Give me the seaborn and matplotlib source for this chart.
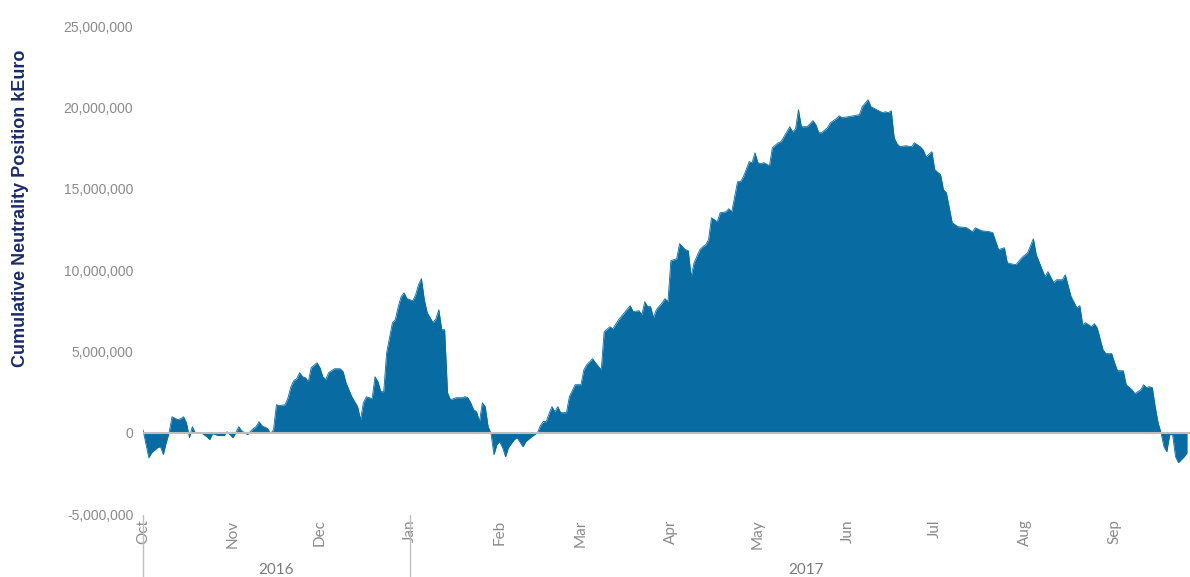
import numpy as np
import pandas as pd
import matplotlib
matplotlib.use("Agg")
import matplotlib.pyplot as plt
import matplotlib.ticker as mticker
import seaborn as sns

# ---------------- data ----------------
start_date = "2016-10-01"
day_offset = [
    0, 2, 3, 5, 6, 7, 8, 9, 10, 12, 13, 14, 15, 16, 17, 18, 20, 22, 23, 24,
    26, 28, 29, 31, 32, 33, 34, 35, 36, 38, 39, 40, 41, 43, 44, 45, 46, 47, 49, 50,
    51, 52, 53, 54, 55, 56, 57, 58, 60, 61, 62, 63, 64, 66, 68, 69, 70, 72, 74, 75,
    76, 77, 79, 80, 81, 82, 83, 84, 86, 87, 88, 89, 90, 91, 93, 94, 95, 96, 97, 98,
    100, 101, 102, 103, 104, 105, 106, 108, 110, 111, 112, 113, 114, 115, 116, 117, 118, 119, 120, 121,
    122, 123, 124, 125, 126, 128, 129, 131, 132, 134, 136, 137, 138, 139, 140, 141, 142, 143, 144, 146,
    147, 149, 151, 152, 153, 155, 156, 158, 159, 161, 162, 164, 166, 168, 169, 171, 172, 173, 174, 175,
    176, 177, 179, 180, 181, 182, 184, 185, 187, 188, 189, 190, 192, 193, 194, 195, 196, 197, 198, 199,
    201, 202, 203, 205, 206, 207, 209, 210, 211, 212, 213, 214, 216, 217, 219, 220, 222, 223, 224, 225,
    226, 227, 229, 231, 232, 233, 234, 236, 237, 239, 240, 241, 243, 245, 247, 248, 250, 251, 253, 255,
    256, 257, 258, 259, 260, 261, 263, 265, 266, 268, 269, 270, 272, 273, 275, 276, 277, 279, 281, 284,
    286, 287, 289, 292, 293, 295, 297, 298, 299, 301, 303, 305, 307, 308, 311, 312, 314, 315, 317, 318,
    320, 322, 323, 324, 325, 327, 328, 329, 331, 332, 334, 335, 336, 338, 339, 341, 342, 344, 345, 346,
    347, 348, 349, 350, 351, 352, 353, 354, 355, 356, 357, 359, 360,
]
position_mio_keur = [
    0.18, -1.54, -1.23, -0.92, -0.86, -1.35, -0.61, 0.00, 0.98, 0.80, 0.86, 0.98, 0.60, -0.31, 0.37, 0.00, 0.00, -0.25, -0.43, -0.06,
    -0.18, -0.18, 0.06, -0.31, 0.00, 0.37, 0.12, 0.00, -0.12, 0.25, 0.37, 0.68, 0.43, 0.25, -0.06, 0.18, 1.72, 1.66, 1.72, 2.15,
    2.83, 3.20, 3.32, 3.69, 3.44, 3.38, 3.14, 4.00, 4.30, 4.00, 3.44, 3.26, 3.69, 3.93, 3.93, 3.75, 3.07, 2.21, 1.60, 0.80,
    1.84, 2.21, 2.09, 3.44, 3.14, 2.52, 2.52, 4.92, 6.76, 6.95, 7.75, 8.36, 8.60, 8.24, 8.11, 8.48, 9.10, 9.47, 8.17, 7.38,
    6.76, 7.01, 7.56, 6.33, 6.33, 2.46, 2.03, 2.15, 2.15, 2.21, 2.15, 1.84, 1.41, 1.29, 0.68, 1.84, 1.60, 0.37, -0.06, -1.35,
    -0.74, -0.55, -0.92, -1.48, -0.92, -0.43, -0.31, -0.86, -0.55, -0.25, 0.00, 0.43, 0.68, 0.68, 1.17, 1.60, 1.29, 1.60, 1.23, 1.23,
    2.21, 2.95, 2.95, 3.87, 4.18, 4.55, 4.30, 3.87, 6.21, 6.51, 6.39, 6.95, 7.38, 7.81, 7.44, 7.50, 7.25, 8.05, 7.75, 7.75,
    7.07, 7.56, 7.99, 8.24, 8.05, 10.57, 10.69, 11.62, 11.25, 11.19, 9.59, 10.45, 11.25, 11.43, 11.55, 11.86, 13.21, 13.09, 12.97, 13.52,
    13.58, 13.77, 13.58, 15.43, 15.43, 15.73, 16.66, 16.60, 17.21, 16.60, 16.53, 16.60, 16.41, 17.52, 17.82, 17.89, 18.50, 18.81, 18.50, 18.68,
    19.85, 18.81, 18.81, 19.18, 18.93, 18.44, 18.44, 18.75, 19.05, 19.30, 19.48, 19.36, 19.42, 19.48, 19.55, 20.04, 20.47, 20.04, 19.85, 19.67,
    19.73, 19.67, 19.79, 18.13, 17.76, 17.58, 17.64, 17.58, 17.82, 17.58, 17.39, 16.96, 17.27, 16.16, 15.86, 14.94, 14.75, 12.91, 12.66, 12.60,
    12.35, 12.60, 12.42, 12.35, 12.29, 11.25, 11.37, 10.45, 10.39, 10.33, 10.76, 11.06, 11.92, 10.94, 9.59, 9.90, 9.22, 9.40, 9.40, 9.71,
    8.36, 7.68, 7.81, 6.64, 6.76, 6.52, 6.70, 6.45, 5.10, 4.86, 4.86, 4.30, 3.81, 3.81, 2.95, 2.64, 2.40, 2.64, 2.95, 2.77,
    2.83, 2.77, 1.60, 0.61, 0.00, -0.86, -1.17, -0.12, -0.12, -1.48, -1.84, -1.48, -1.23,
]
y_ticks = [-5_000_000, 0, 5_000_000, 10_000_000, 15_000_000, 20_000_000, 25_000_000]
month_ticks = pd.date_range("2016-10-01", "2017-09-01", freq="MS")
month_labels = ["Oct", "Nov", "Dec", "Jan", "Feb", "Mar", "Apr", "May", "Jun", "Jul", "Aug", "Sep"]
year_labels = ["2016", "2017"]
year_spans = [("2016-10-01", "2017-01-01"), ("2017-01-01", "2017-10-01")]
y_label = "Cumulative Neutrality Position kEuro"

df = pd.DataFrame({
    "date": pd.Timestamp(start_date) + pd.to_timedelta(day_offset, unit="D"),
    "position": np.array(position_mio_keur) * 1_000_000,
})

# ---------------- style ----------------
sns.set_theme(style="white")
plt.rcParams["font.family"] = ["Liberation Sans", "DejaVu Sans"]

fill_color = "#086CA2"
tick_gray = "#8A8A8A"

fig = plt.figure(figsize=(11.9, 5.77), dpi=100)
ax = fig.add_axes([143 / 1190, 1 - 514 / 577, 1 - 143 / 1190, (514 - 26) / 577])

sns.lineplot(data=df, x="date", y="position", ax=ax, color=fill_color, linewidth=0.6)
ax.fill_between(df["date"], 0, df["position"], color=fill_color, linewidth=0)
ax.axhline(0, color="#BDBDBD", linewidth=1.5, zorder=5)

ax.set_xlim(pd.Timestamp("2016-10-01"), pd.Timestamp(start_date) + pd.Timedelta(days=361))
ax.set_ylim(y_ticks[0], y_ticks[-1])
ax.set_yticks(y_ticks)
ax.yaxis.set_major_formatter(mticker.FuncFormatter(lambda v, p: f"{int(v):,}"))
ax.tick_params(axis="y", colors=tick_gray, labelsize=10, length=0, pad=7)
for lab in ax.get_yticklabels():
    lab.set_color(tick_gray)

ax.set_xticks(month_ticks)
ax.set_xticklabels(month_labels, rotation=90, ha="center", va="top",
                   fontfamily="Lato", fontsize=11, color=tick_gray)
ax.tick_params(axis="x", length=0, pad=4)

ax.set_xlabel("")
ax.set_ylabel("")
for s in ax.spines.values():
    s.set_visible(False)
ax.grid(False)

# year group labels and separators
trans = ax.get_xaxis_transform()
for lab, (a, b) in zip(year_labels, year_spans):
    a_t, b_t = pd.Timestamp(a), pd.Timestamp(b)
    mid = a_t + (b_t - a_t) / 2
    ax.text(mid, -0.115, lab, transform=trans, ha="center", va="center",
            fontfamily="Lato", fontsize=11, color="#7A7A7A")
    ax.plot([a_t, a_t], [-0.003, -0.135], transform=trans, color="#BFBFBF",
            linewidth=1, clip_on=False)

fig.text(21 / 1190, 1 - 208 / 577, y_label, rotation=90, ha="center", va="center",
         fontsize=13, fontweight="bold", color="#1B2A6B")

fig.savefig("out.png", dpi=100)
